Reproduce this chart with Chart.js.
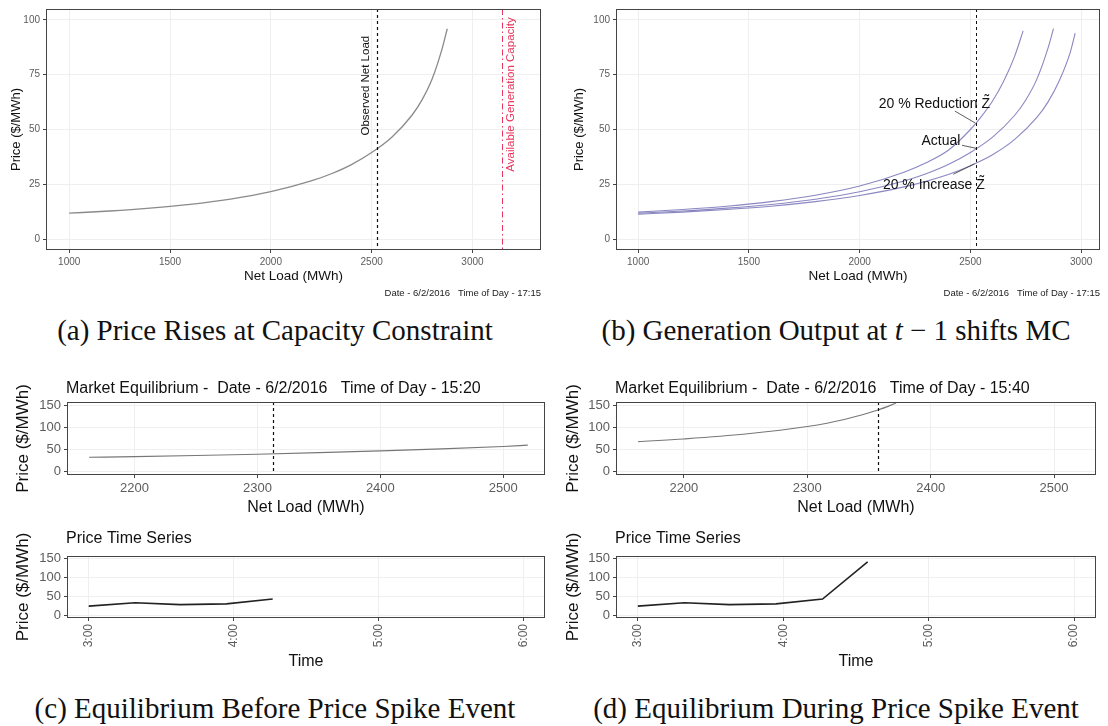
<!DOCTYPE html>
<html>
<head>
<meta charset="utf-8">
<script src="https://cdn.jsdelivr.net/npm/chart.js@4.4.1/dist/chart.umd.min.js"></script>
<style>
  body { margin: 0; background: #fff; width: 1108px; height: 726px; position: relative; overflow: hidden; }
  canvas { position: absolute; }
  .cap { position: absolute; width: 600px; text-align: center; white-space: nowrap;
         font-family: "Liberation Serif", serif; font-size: 29px; line-height: 32px; color: #111; }
</style>
</head>
<body>
<canvas id="chA" width="554" height="300" style="left:0;top:0"></canvas>
<canvas id="chB" width="554" height="300" style="left:554px;top:0"></canvas>
<canvas id="chC1" width="554" height="150" style="left:0;top:370px"></canvas>
<canvas id="chC2" width="554" height="160" style="left:0;top:520px"></canvas>
<canvas id="chD1" width="554" height="150" style="left:554px;top:370px"></canvas>
<canvas id="chD2" width="554" height="160" style="left:554px;top:520px"></canvas>

<div class="cap" style="left:-25px;top:314px">(a) Price Rises at Capacity Constraint</div>
<div class="cap" style="left:536px;top:314px">(b) Generation Output at <i>t</i>&nbsp;−&nbsp;1 shifts MC</div>
<div class="cap" style="left:-25px;top:692px">(c) Equilibrium Before Price Spike Event</div>
<div class="cap" style="left:536px;top:692px">(d) Equilibrium During Price Spike Event</div>

<script>
// ---- data ----
// marginal cost curve, 6/2/2016 17:15 (panel a, and "Actual" in panel b)
const actualLoad  = [1000, 1200, 1400, 1600, 1800, 2000, 2200, 2300, 2400, 2500, 2600, 2700, 2750, 2800, 2850, 2875];
const actualPrice = [11.8, 12.8, 14.1, 15.8, 18.2, 21.6, 26.5, 29.8, 34.0, 39.5, 46.5, 56.5, 63.5, 73.0, 87.0, 96.0];
// 20 % reduction / increase of Z~
const reducLoad  = [1000, 1200, 1400, 1600, 1800, 2000, 2200, 2300, 2400, 2500, 2550, 2600, 2650, 2700, 2738];
const reducPrice = [12.3, 13.5, 15.0, 17.1, 20.0, 24.2, 30.5, 34.8, 40.5, 50.0, 56.0, 63.0, 72.0, 83.5, 95.0];
const incLoad  = [1000, 1200, 1400, 1600, 1800, 2000, 2200, 2400, 2500, 2600, 2700, 2800, 2850, 2900, 2950, 2973];
const incPrice = [11.3, 12.3, 13.5, 15.0, 17.1, 19.9, 23.8, 29.5, 33.5, 38.5, 45.5, 55.5, 62.5, 72.0, 85.0, 94.0];
const observedLoadA = 2525;
const capacityA = 3145;

// market equilibrium curves, 15:20 (c) and 15:40 (d)
const eqLoadC  = [2163, 2200, 2250, 2300, 2350, 2400, 2450, 2500, 2520];
const eqPriceC = [32.5, 34.0, 36.5, 39.5, 43.0, 47.0, 51.5, 57.0, 60.0];
const eqLoadD  = [2163, 2200, 2250, 2300, 2330, 2358, 2372];
const eqPriceD = [68, 74, 85, 102, 118, 140, 155];
const observedLoadC = 2313;
const observedLoadD = 2357;

// price time series (hours)
const tsHoursC = [3.00, 3.32, 3.63, 3.95, 4.27];
const tsPriceC = [24, 33, 28, 30, 43];
const tsHoursD = [3.00, 3.32, 3.63, 3.95, 4.27, 4.58];
const tsPriceD = [24, 33, 28, 30, 43, 142];

// tick values
const loadTicksAB  = [1000, 1500, 2000, 2500, 3000];
const priceTicksAB = [0, 25, 50, 75, 100];
const loadTicksCD  = [2200, 2300, 2400, 2500];
const priceTicksCD = [0, 50, 100, 150];
const hourTicks    = [3, 4, 5, 6];

const FONT = '"Liberation Sans", Arial, sans-serif';

function xy(xs, ys) { return xs.map((x, i) => ({ x: x, y: ys[i] })); }

function axis(min, max, ticks, size, fit, extra) {
  return {
    type: 'linear', min: min, max: max,
    afterBuildTicks: s => { s.ticks = ticks.map(v => ({ value: v })); },
    afterFit: s => { if (s.isHorizontal()) s.height = fit; else s.width = fit; },
    grid: { color: '#efefef', lineWidth: 1, drawTicks: true, tickLength: 3, tickColor: '#444' },
    border: { display: false },
    ticks: Object.assign({ color: '#5c5c5c', font: { family: FONT, size: size }, padding: 3,
                           autoSkip: false, minRotation: 0, maxRotation: 0,
                           callback: v => String(v) }, extra || {})
  };
}

// draws the ggplot bits: panel box, reference lines, labels, titles
function gg(o) {
  return {
    id: 'gg',
    afterDatasetsDraw(chart) {
      const ctx = chart.ctx, a = chart.chartArea, x = chart.scales.x, y = chart.scales.y;
      ctx.save();
      (o.vlines || []).forEach(l => {
        const px = Math.round(x.getPixelForValue(l.at)) + 0.5;
        ctx.strokeStyle = l.color; ctx.lineWidth = l.width || 1; ctx.setLineDash(l.dash);
        ctx.beginPath(); ctx.moveTo(px, a.top); ctx.lineTo(px, a.bottom); ctx.stroke();
      });
      ctx.setLineDash([]);
      (o.segs || []).forEach(s => {
        ctx.strokeStyle = '#333'; ctx.lineWidth = 0.8;
        ctx.beginPath();
        ctx.moveTo(x.getPixelForValue(s[0]), y.getPixelForValue(s[1]));
        ctx.lineTo(x.getPixelForValue(s[2]), y.getPixelForValue(s[3]));
        ctx.stroke();
      });
      (o.vtexts || []).forEach(t => {
        ctx.save();
        ctx.translate(x.getPixelForValue(t.x), y.getPixelForValue(t.y));
        ctx.rotate(-Math.PI / 2);
        ctx.font = t.size + 'px ' + FONT; ctx.fillStyle = t.color;
        ctx.textAlign = 'center'; ctx.textBaseline = 'middle';
        ctx.fillText(t.text, 0, 0);
        ctx.restore();
      });
      (o.texts || []).forEach(t => {
        ctx.font = t.size + 'px ' + FONT; ctx.fillStyle = '#111';
        ctx.textAlign = 'center'; ctx.textBaseline = 'middle';
        ctx.fillText(t.text, x.getPixelForValue(t.x), y.getPixelForValue(t.y));
      });
      ctx.strokeStyle = '#444'; ctx.lineWidth = 1;
      ctx.strokeRect(Math.round(a.left) + 0.5, Math.round(a.top) + 0.5, Math.round(a.width) - 1, Math.round(a.height) - 1);
      ctx.restore();
    },
    afterDraw(chart) {
      const ctx = chart.ctx, a = chart.chartArea;
      ctx.save();
      ctx.fillStyle = '#111'; ctx.textBaseline = 'middle';
      // y axis title
      ctx.save();
      ctx.translate(o.yTitle.x, (a.top + a.bottom) / 2);
      ctx.rotate(-Math.PI / 2);
      ctx.font = o.yTitle.size + 'px ' + FONT; ctx.textAlign = 'center';
      ctx.fillText(o.yTitle.text, 0, 0);
      ctx.restore();
      // x axis title
      ctx.font = o.xTitle.size + 'px ' + FONT; ctx.textAlign = 'center';
      ctx.fillText(o.xTitle.text, (a.left + a.right) / 2, o.xTitle.y);
      if (o.title) {
        ctx.font = o.title.size + 'px ' + FONT; ctx.textAlign = 'left';
        ctx.fillText(o.title.text, a.left - 1, o.title.y);
      }
      if (o.footer) {
        ctx.font = o.footer.size + 'px ' + FONT; ctx.textAlign = 'right'; ctx.fillStyle = '#222';
        ctx.fillText(o.footer.text, a.right, o.footer.y);
      }
      ctx.restore();
    }
  };
}

function make(id, datasets, scales, padding, extras) {
  return new Chart(document.getElementById(id), {
    type: 'line',
    data: { datasets: datasets },
    options: {
      responsive: false, animation: false, devicePixelRatio: 1,
      layout: { padding: padding },
      plugins: { legend: { display: false }, tooltip: { enabled: false } },
      scales: scales
    },
    plugins: [gg(extras)]
  });
}

function curve(xs, ys, color, width, smooth) {
  return { data: xy(xs, ys), borderColor: color, borderWidth: width, pointRadius: 0, fill: false,
           cubicInterpolationMode: smooth ? 'monotone' : 'default', tension: 0 };
}

const footerAB = 'Date - 6/2/2016   Time of Day - 17:15';

// (a)
make('chA',
  [curve(actualLoad, actualPrice, '#8a8a8a', 1.3, true)],
  { x: axis(885, 3340, loadTicksAB, 10, 50), y: axis(-5, 105, priceTicksAB, 10, 46) },
  { left: 0, right: 13, top: 5, bottom: 0 },
  {
    vlines: [{ at: observedLoadA, color: '#111', dash: [3, 3], width: 1.2 },
             { at: capacityA, color: '#e8365d', dash: [6, 3, 1.5, 3], width: 1 }],
    vtexts: [{ x: 2473, y: 70, text: 'Observed Net Load', size: 11.5, color: '#111' },
             { x: 3190, y: 66, text: 'Available Generation Capacity', size: 11.5, color: '#e8365d' }],
    yTitle: { text: 'Price ($/MWh)', size: 13, x: 16 },
    xTitle: { text: 'Net Load (MWh)', size: 13.5, y: 276 },
    footer: { text: footerAB, size: 9.5, y: 293 }
  });

// (b)
const mcBlue = 'rgba(118,114,182,0.85)';
make('chB',
  [curve(reducLoad, reducPrice, mcBlue, 1.1, true),
   curve(actualLoad, actualPrice, mcBlue, 1.1, true),
   curve(incLoad, incPrice, mcBlue, 1.1, true)],
  { x: axis(900, 3085, loadTicksAB, 10, 50), y: axis(-5, 105, priceTicksAB, 10, 62) },
  { left: 0, right: 8, top: 5, bottom: 0 },
  {
    vlines: [{ at: 2526, color: '#111', dash: [3, 3], width: 1 }],
    segs: [[2430, 58.4, 2521, 53.0], [2462, 42.8, 2526, 41.4], [2423, 29.6, 2518, 34.3]],
    texts: [{ x: 2337, y: 61.8, text: '20 % Reduction Z\u0303', size: 14 },
            { x: 2367, y: 44.6, text: 'Actual', size: 14 },
            { x: 2335, y: 24.7, text: '20 % Increase Z\u0303', size: 14 }],
    yTitle: { text: 'Price ($/MWh)', size: 13, x: 25 },
    xTitle: { text: 'Net Load (MWh)', size: 13.5, y: 276 },
    footer: { text: footerAB, size: 9.5, y: 293 }
  });

const hourAxis = (fit) => axis(2.85, 6.15, hourTicks, 12, fit,
  { minRotation: 90, maxRotation: 90, callback: v => v + ':00' });

// (c)
make('chC1',
  [curve(eqLoadC, eqPriceC, '#777', 1.1, true)],
  { x: axis(2145, 2534, loadTicksCD, 13, 45), y: axis(-7.5, 157.5, priceTicksCD, 13, 67) },
  { left: 0, right: 9, top: 32, bottom: 0 },
  {
    vlines: [{ at: observedLoadC, color: '#111', dash: [3, 3], width: 1.2 }],
    yTitle: { text: 'Price ($/MWh)', size: 17, x: 23 },
    xTitle: { text: 'Net Load (MWh)', size: 16, y: 138 },
    title: { text: 'Market Equilibrium -  Date - 6/2/2016   Time of Day - 15:20', size: 16, y: 19 }
  });
make('chC2',
  [curve(tsHoursC, tsPriceC, '#222', 1.6, false)],
  { x: hourAxis(62), y: axis(-7.5, 157.5, priceTicksCD, 13, 67) },
  { left: 0, right: 9, top: 36, bottom: 0 },
  {
    yTitle: { text: 'Price ($/MWh)', size: 17, x: 23 },
    xTitle: { text: 'Time', size: 16, y: 142 },
    title: { text: 'Price Time Series', size: 16, y: 19 }
  });

// (d)
make('chD1',
  [curve(eqLoadD, eqPriceD, '#777', 1.1, true)],
  { x: axis(2145, 2534, loadTicksCD, 13, 45), y: axis(-7.5, 157.5, priceTicksCD, 13, 62) },
  { left: 0, right: 12, top: 32, bottom: 0 },
  {
    vlines: [{ at: observedLoadD, color: '#111', dash: [3, 3], width: 1.2 }],
    yTitle: { text: 'Price ($/MWh)', size: 17, x: 19 },
    xTitle: { text: 'Net Load (MWh)', size: 16, y: 138 },
    title: { text: 'Market Equilibrium -  Date - 6/2/2016   Time of Day - 15:40', size: 16, y: 19 }
  });
make('chD2',
  [curve(tsHoursD, tsPriceD, '#222', 1.6, false)],
  { x: hourAxis(62), y: axis(-7.5, 157.5, priceTicksCD, 13, 62) },
  { left: 0, right: 12, top: 36, bottom: 0 },
  {
    yTitle: { text: 'Price ($/MWh)', size: 17, x: 19 },
    xTitle: { text: 'Time', size: 16, y: 142 },
    title: { text: 'Price Time Series', size: 16, y: 19 }
  });
</script>
</body>
</html>
